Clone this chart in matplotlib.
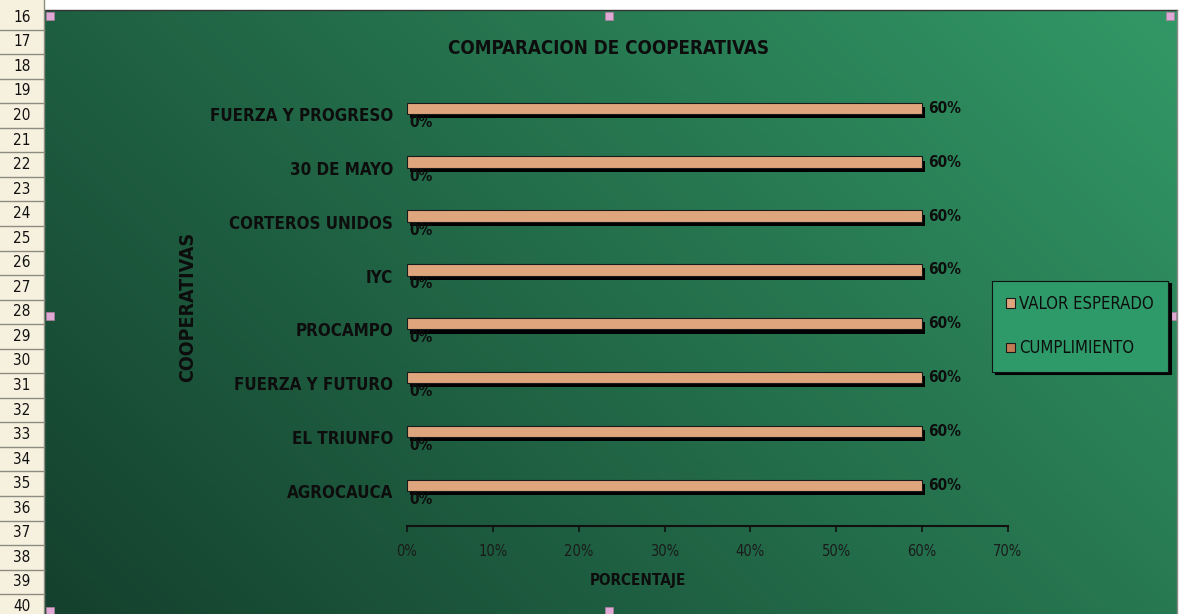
# Excel-style bar chart: COMPARACION DE COOPERATIVAS
import matplotlib
matplotlib.use('Agg')
import matplotlib.pyplot as plt
import matplotlib.patches as patches
import matplotlib.patheffects as pe
import numpy as np

cooperativas = ['AGROCAUCA', 'EL TRIUNFO', 'FUERZA Y FUTURO', 'PROCAMPO',
                'IYC', 'CORTEROS UNIDOS', '30 DE MAYO', 'FUERZA Y PROGRESO']
valor_esperado = [0.60, 0.60, 0.60, 0.60, 0.60, 0.60, 0.60, 0.60]
cumplimiento = [0.0, 0.0, 0.0, 0.0, 0.0, 0.0, 0.0, 0.0]
x_ticks = [0.0, 0.1, 0.2, 0.3, 0.4, 0.5, 0.6, 0.7]
filas = list(range(16, 41))

W, H = 1179, 614
FONT = ['DejaVu Sans']
TXT = '#0d0d0d'

fig = plt.figure(figsize=(W / 100, H / 100), dpi=100)
fig.patch.set_facecolor('white')

# pixel-space background axes (sheet + chart area)
bg = fig.add_axes([0, 0, 1, 1])
bg.set_xlim(0, W)
bg.set_ylim(H, 0)
bg.axis('off')

# gradient chart background
cx0, cx1, cy0, cy1 = 44, 1177, 10, H
gx = np.linspace(0, 1, 300)
gy = np.linspace(0, 1, 200)
XX, YY = np.meshgrid(gx, gy)
t = np.clip(0.65 * XX + 0.35 * (1 - YY), 0, 1)
dark = np.array([20, 64, 45]) / 255
light = np.array([50, 152, 102]) / 255
img = dark[None, None, :] + (light - dark)[None, None, :] * t[..., None]
bg.imshow(img, extent=[cx0, cx1, cy1, cy0], aspect='auto', zorder=0,
          interpolation='bilinear')
bg.plot([cx0, cx1], [cy0, cy0], color='#333333', lw=1, zorder=1)
bg.plot([cx1, cx1], [cy0, H], color='#888888', lw=1, zorder=1)

# row headers
row_h = 24.55
bg.add_patch(patches.Rectangle((0, 0), 44, H, facecolor='#f6f1df',
                               edgecolor='none', zorder=1))
for i, r in enumerate(filas):
    top = 5 + row_h * i
    bg.plot([0, 44], [top + row_h, top + row_h], color='#8c8c80', lw=1, zorder=2)
    bg.text(22, top + row_h / 2, str(r), ha='center', va='center',
            fontsize=11, color='#111111', family=FONT, fontstretch='condensed',
            zorder=3)
bg.plot([44, 44], [0, H], color='#8c8c80', lw=1, zorder=2)

# selection handles
for hx, hy in [(46, 12), (605, 12), (1166, 12), (46, 312), (1168, 312),
               (46, 607), (605, 607)]:
    bg.add_patch(patches.Rectangle((hx, hy), 8, 8, facecolor='#e0a8d4',
                                   edgecolor='#b080a0', lw=0.5, zorder=4))

# main plot
ax = fig.add_axes([407 / W, (H - 526) / H, 601 / W, (526 - 87) / H])
ax.patch.set_alpha(0)
y = np.arange(len(cooperativas))
bh = 0.21
shadow = [pe.SimplePatchShadow(offset=(2, -3), shadow_rgbFace='black', alpha=1),
          pe.Normal()]
b1 = ax.barh(y + bh / 2, valor_esperado, height=bh, color='#dfa67e',
             edgecolor='#1a1a1a', lw=0.8, label='VALOR ESPERADO',
             path_effects=shadow, zorder=3)
b2 = ax.barh(y - bh / 2, cumplimiento, height=bh, color='#c07a55',
             edgecolor='#1a1a1a', lw=0, label='CUMPLIMIENTO', zorder=3)

for yi, v in zip(y, valor_esperado):
    ax.annotate(f'{v:.0%}', (v, yi + bh / 2), xytext=(4, 0),
                textcoords='offset points', ha='left', va='center',
                fontsize=11, fontweight='bold', color=TXT, family=FONT,
                fontstretch='condensed')
for yi, v in zip(y, cumplimiento):
    ax.annotate(f'{v:.0%}', (v, yi - bh / 2), xytext=(2, -2),
                textcoords='offset points', ha='left', va='center',
                fontsize=11, fontweight='bold', color=TXT, family=FONT,
                fontstretch='condensed')

ax.set_xlim(0, 0.7)
ax.set_ylim(-0.65, 7.5)
ax.set_xticks(x_ticks)
ax.set_xticklabels([f'{v:.0%}' for v in x_ticks], fontsize=10.5,
                   color='#1a1a1a', family=FONT, fontstretch='condensed')
ax.set_yticks(y)
ax.set_yticklabels(cooperativas, fontsize=12.2, fontweight='bold', color=TXT,
                   family=FONT, fontstretch='condensed')
ax.tick_params(axis='x', direction='out', length=4, width=1.2, color='#111111',
               pad=9)
ax.tick_params(axis='y', length=0, pad=10)
for s in ['top', 'right', 'left']:
    ax.spines[s].set_visible(False)
ax.spines['bottom'].set_color('#111111')
ax.spines['bottom'].set_linewidth(1.5)

# titles
fig.text(609 / W, 1 - 48 / H, 'COMPARACION DE COOPERATIVAS', ha='center',
         va='center', fontsize=13.5, fontweight='bold', color=TXT, family=FONT,
         fontstretch='condensed')
fig.text(638 / W, 1 - 581 / H, 'PORCENTAJE', ha='center', va='center',
         fontsize=11, fontweight='bold', color=TXT, family=FONT,
         fontstretch='condensed')
fig.text(188 / W, 1 - 307 / H, 'COOPERATIVAS', ha='center', va='center',
         rotation=90, fontsize=14, fontweight='bold', color=TXT,
         family=FONT, fontstretch='condensed')

# legend
leg = fig.legend(handles=[b1, b2], loc='center',
                 bbox_to_anchor=(1080 / W, 1 - 326 / H),
                 bbox_transform=fig.transFigure, frameon=True,
                 fancybox=False, shadow={'color': 'black', 'alpha': 1},
                 facecolor='#2f9a69', edgecolor='#111111', framealpha=1,
                 prop={'family': FONT, 'size': 12, 'stretch': 'condensed'},
                 handlelength=0.5, handleheight=0.5, handletextpad=0.25,
                 labelspacing=1.6, borderpad=0.85)
leg.get_frame().set_linewidth(0.8)
for txt in leg.get_texts():
    txt.set_color(TXT)
for h in leg.legend_handles:
    h.set_path_effects([])
    h.set_edgecolor('#1a1a1a')
    h.set_linewidth(0.8)

fig.savefig('out.png', dpi=100)
